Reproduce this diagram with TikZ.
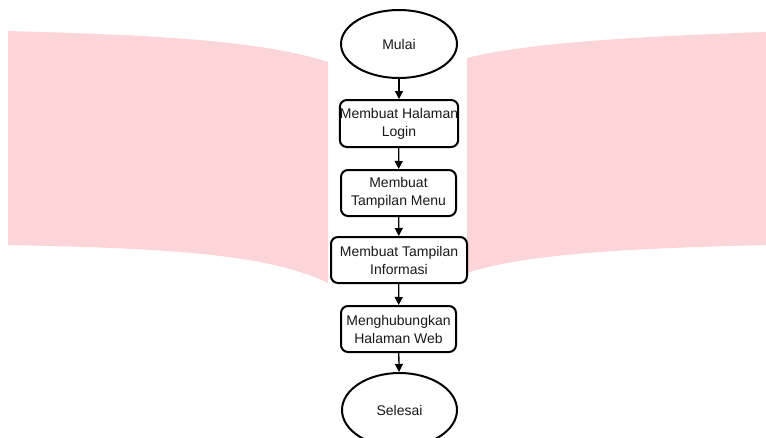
\documentclass[tikz,border=0pt]{standalone}
\usepackage{fontspec}
\setmainfont{Liberation Sans}
\usetikzlibrary{shapes.geometric,arrows.meta}
\definecolor{pinkbg}{RGB}{252,213,216}
\definecolor{txt}{RGB}{25,25,25}
\begin{document}
\begin{tikzpicture}[x=1pt,y=-1pt,
  term/.style={ellipse,draw=black,line width=2pt,minimum width=116pt,minimum height=68pt,inner sep=0pt,font=\fontsize{14}{18}\selectfont,text=txt},
  proc/.style={rectangle,rounded corners=7pt,draw=black,line width=2pt,minimum height=46pt,inner sep=0pt,align=center,font=\fontsize{14}{18}\selectfont,text=txt},
  flow/.style={line width=1.3pt,-{Triangle[length=8pt,width=8pt]}}]
\useasboundingbox (0,0) rectangle (766,437);
\fill[white] (0,0) rectangle (766,437);
% watermark pages
\fill[pinkbg] (8,31) .. controls (150,35) and (260,40) .. (328,62) -- (328,283)
  .. controls (265,252) and (150,248) .. (8,245) -- cycle;
\fill[pinkbg] (467,58) .. controls (530,42) and (650,36) .. (766,32) -- (766,245)
  .. controls (650,248) and (530,252) .. (467,273) -- cycle;
% flowchart
\node[term] (mulai) at (399,44) {Mulai};
\node[proc,minimum width=116pt,minimum height=47pt] (b1) at (399,123.5) {Membuat Halaman\\Login};
\node[proc,minimum width=115pt] (b2) at (398.5,193) {Membuat\\Tampilan Menu};
\node[proc,minimum width=136pt] (b3) at (399,260) {Membuat Tampilan\\Informasi};
\node[proc,minimum width=115pt] (b4) at (398.5,329) {Menghubungkan\\Halaman Web};
\node[term,minimum width=115pt,minimum height=74pt] (selesai) at (399.5,410) {Selesai};
\draw[flow] (mulai) -- (b1);
\draw[flow] (b1) -- (b2);
\draw[flow] (b2) -- (b3);
\draw[flow] (b3) -- (b4);
\draw[flow] (b4) -- (selesai);
\end{tikzpicture}
\end{document}
